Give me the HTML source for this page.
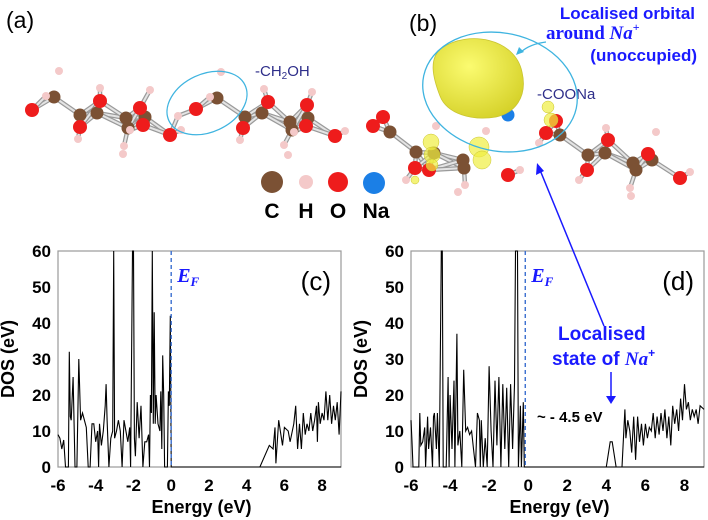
<!DOCTYPE html>
<html><head><meta charset="utf-8"><style>
html,body{margin:0;padding:0;background:#fff;}
svg{display:block;}
text{font-family:"Liberation Sans",sans-serif;}
</style></head><body>
<svg id="fig" width="708" height="520" viewBox="0 0 708 520" xmlns="http://www.w3.org/2000/svg">
<defs>
<radialGradient id="yg" cx="0.4" cy="0.35" r="0.7"><stop offset="0" stop-color="#fbfb70"/><stop offset="1" stop-color="#d6d22a"/></radialGradient>
</defs>
<g id="molA"></g>
<g id="molB"></g>
<text x="6" y="28" font-size="23">(a)</text>
<text x="409" y="31" font-size="23">(b)</text>
<ellipse cx="207" cy="103" rx="42" ry="29" transform="rotate(-25 207 103)" fill="none" stroke="#3fb4e0" stroke-width="1.3"/>
<text x="255" y="76" font-size="15" fill="#2e2e8a">-CH<tspan font-size="10" dy="3">2</tspan><tspan dy="-3">OH</tspan></text>
<text x="537" y="99" font-size="15" fill="#2e2e8a">-COONa</text>
<ellipse cx="500" cy="92" rx="78" ry="59" transform="rotate(12 500 92)" fill="none" stroke="#3fb4e0" stroke-width="1.3"/>
<text x="695" y="19" font-size="17" font-weight="bold" fill="#1a1aff" text-anchor="end">Localised orbital</text>
<text x="546" y="39" font-size="19" font-weight="bold" fill="#1a1aff" style="font-family:'Liberation Serif',serif">around <tspan font-style="italic">Na</tspan><tspan font-size="12" dy="-8">+</tspan></text>
<text x="697" y="61" font-size="17" font-weight="bold" fill="#1a1aff" text-anchor="end">(unoccupied)</text>
<path d="M546 42 Q530 44 521 52" fill="none" stroke="#3fb4e0" stroke-width="1.3"/>
<path d="M516 55 L519 47 L524 52 Z" fill="#3fb4e0"/>
<g>
<circle cx="272" cy="182" r="11" fill="#7b5134"/>
<circle cx="306" cy="182" r="7" fill="#f4c9c9"/>
<circle cx="338" cy="182" r="10" fill="#ee1c1c"/>
<circle cx="374" cy="183" r="11" fill="#1b7fe6"/>
<text x="272" y="218" font-size="21" font-weight="bold" text-anchor="middle">C</text>
<text x="306" y="218" font-size="21" font-weight="bold" text-anchor="middle">H</text>
<text x="338" y="218" font-size="21" font-weight="bold" text-anchor="middle">O</text>
<text x="376" y="218" font-size="21" font-weight="bold" text-anchor="middle">Na</text>
</g>
<g id="plotC"></g>
<g id="plotD"></g>
<line x1="604" y1="326" x2="540" y2="170" stroke="#1a1aff" stroke-width="1.5"/>
<path d="M537 163 L536 175 L544 171 Z" fill="#1a1aff"/>
<text x="558" y="340" font-size="19" font-weight="bold" fill="#1a1aff">Localised</text>
<text x="552" y="365" font-size="19" font-weight="bold" fill="#1a1aff">state of <tspan font-style="italic" style="font-family:'Liberation Serif',serif">Na</tspan><tspan font-size="12" dy="-8">+</tspan></text>
<line x1="611" y1="372" x2="611" y2="398" stroke="#1a1aff" stroke-width="1.5"/>
<path d="M606 396 L616 396 L611 404 Z" fill="#1a1aff"/>
<text x="537" y="422" font-size="15" font-weight="bold">~ - 4.5 eV</text>
</svg>
<script>
const NS="http://www.w3.org/2000/svg";
const energyC=[-6,-5.9,-5.8,-5.7,-5.6,-5.45,-5.4,-5.35,-5.3,-5.2,-5.1,-5,-4.9,-4.8,-4.7,-4.6,-4.5,-4.4,-4.3,-4.2,-4.1,-4,-3.9,-3.85,-3.8,-3.7,-3.6,-3.5,-3.45,-3.4,-3.3,-3.2,-3.1,-3.05,-3,-2.9,-2.8,-2.7,-2.6,-2.5,-2.4,-2.3,-2.2,-2.15,-2.05,-2,-1.95,-1.9,-1.8,-1.7,-1.6,-1.5,-1.4,-1.3,-1.2,-1.15,-1.1,-1.05,-1,-0.95,-0.9,-0.85,-0.8,-0.7,-0.6,-0.55,-0.5,-0.45,-0.4,-0.35,-0.2,-0.15,-0.1,-0.05,0,4.7,5.2,5.4,5.5,5.55,5.7,5.9,6,6.2,6.3,6.5,6.6,6.7,6.8,6.9,7,7.1,7.2,7.3,7.4,7.5,7.6,7.7,7.75,7.8,7.9,8,8.1,8.2,8.3,8.4,8.5,8.6,8.7,8.8,8.9,9];
const dosC=[9,8,5,7.5,0,0,32,14,13,25,0,0,30,13,15,13,11,0,0,12,12,7,10,0,12,6,10,17,23,13,0,8,10,60,8,10,13,10,0,13,10,7,11,0,60,60,8,3,18,8,17,0,7,7,9,0,20,15,60,12,43,12,20,12,10,21,5,31,20,0,0,21,17,42,0,0,6,5,11,1,13,6,11,10,7,12,17,5,12,5,15,9,12,10,15,10,13,17,7,18,12,15,13,21,13,20,12,17,13,18,9,21];
const energyD=[-6,-5.95,-5.9,-5.6,-5.55,-5.5,-5.4,-5.3,-5.25,-5.15,-5.1,-5,-4.9,-4.85,-4.8,-4.7,-4.65,-4.55,-4.45,-4.4,-4.35,-4.2,-4.1,-4.05,-4,-3.9,-3.8,-3.75,-3.65,-3.6,-3.5,-3.4,-3.3,-3.2,-3.1,-3,-2.9,-2.8,-2.7,-2.6,-2.5,-2.45,-2.4,-2.3,-2.2,-2.1,-2,-1.9,-1.8,-1.7,-1.6,-1.5,-1.4,-1.3,-1.2,-1.1,-1,-0.9,-0.8,-0.7,-0.65,-0.55,-0.5,-0.4,-0.35,-0.25,-0.2,4,4.2,4.3,4.5,4.8,4.95,5,5.1,5.2,5.3,5.4,5.5,5.6,5.7,5.8,5.9,6,6.1,6.2,6.3,6.4,6.5,6.6,6.7,6.8,6.9,7,7.1,7.2,7.3,7.4,7.5,7.6,7.7,7.8,7.9,8,8.1,8.2,8.3,8.4,8.5,8.6,8.7,8.8,9];
const dosD=[13,7,0,0,15,6,7,11,0,14,5,11,0,14,15,5,15,0,60,60,0,0,25,0,20,5,24,0,37,6,10,0,27,10,11,9,10,5,0,15,13,0,13,0,8,0,28,10,0,24,6,25,0,23,5,22,0,23,5,23,60,60,0,17,0,18,0,0,7,7,0,0,16,8,13,10,4,14,2,14,7,12,6,12,8,11,10,15,8,14,9,15,10,16,8,14,6,17,12,16,10,19,13,23,16,18,13,16,14,16,12,17,16];
const xTicks=[-6,-4,-2,0,2,4,6,8];
const yTicks=[0,10,20,30,40,50,60];
const efC=0, efD=-0.15;

function el(tag,attrs,parent){const e=document.createElementNS(NS,tag);for(const k in attrs)e.setAttribute(k,attrs[k]);parent.appendChild(e);return e;}

function drawPlot(g,box,energy,dos,ef,label,pref){
  const xs=v=>box.l+(v-(-6))/15*(box.r-box.l);
  const ys=v=>box.b-(v/60)*(box.b-box.t);
  const frame=el('rect',{x:box.l,y:box.t,width:box.r-box.l,height:box.b-box.t,fill:'none',stroke:'#9a9a9a','stroke-width':1.2},g);
  
  
  xTicks.forEach(t=>{
    const tx=el('text',{x:xs(t),y:box.b+24,'font-size':17,'font-weight':'bold','text-anchor':'middle'},g);
    tx.textContent=t;
    
    
  });
  yTicks.forEach(t=>{
    const ty=el('text',{x:box.l-7,y:ys(t)+6,'font-size':17,'font-weight':'bold','text-anchor':'end'},g);
    ty.textContent=t;
    
    
  });
  const xt=el('text',{x:(box.l+box.r)/2+2,y:box.b+46,'font-size':18,'font-weight':'bold','text-anchor':'middle'},g);
  xt.textContent='Energy (eV)';
  
  
  const cy=(box.t+box.b)/2, cx=box.l-44;
  const yt=el('text',{x:cx,y:cy,'font-size':18,'font-weight':'bold','text-anchor':'middle',transform:`rotate(-90 ${cx} ${cy})`},g);
  yt.textContent='DOS (eV)';
  
  
  let d='';
  energy.forEach((e,i)=>{d+=(i?'L':'M')+xs(e).toFixed(1)+' '+ys(dos[i]).toFixed(1);});
  d+='L'+xs(9)+' '+ys(dos[dos.length-1]);
  const line=el('path',{d:d,fill:'none',stroke:'#000','stroke-width':1.1},g);
  
  
  const base=el('line',{x1:xs(ef),y1:box.b,x2:box.r,y2:box.b,stroke:'#000','stroke-width':1},g);
  
  
  const efl=el('line',{x1:xs(ef),y1:box.t,x2:xs(ef),y2:box.b,stroke:'#3a6fd0','stroke-width':1.4,'stroke-dasharray':'4 3'},g);
  
  
  const eft=el('text',{x:xs(ef)+6,y:box.t+31,'font-size':20,'font-weight':'bold','font-style':'italic',fill:'#1a1aff',style:"font-family:'Liberation Serif',serif"},g);
  eft.innerHTML='E<tspan font-size="13" dy="4">F</tspan>';
  
  
  const pl=el('text',{x:box.r-10,y:box.t+39,'font-size':26,'text-anchor':'end'},g);
  pl.textContent=label;
  
  
}
drawPlot(document.getElementById('plotC'),{l:58,r:341,t:251,b:467},energyC,dosC,efC,'(c)','c');
drawPlot(document.getElementById('plotD'),{l:411,r:704,t:251,b:467},energyD,dosD,efD,'(d)','d');

const COL={C:'#7b5134',O:'#ee1c1c',H:'#f4c9c9',N:'#1b7fe6'};
const RAD={C:6.5,O:7,H:4,N:6.5};
function drawMol(g,atoms,pref){
  const bonds=el('g',{},g);
  for(let i=0;i<atoms.length;i++)for(let j=i+1;j<atoms.length;j++){
    const a=atoms[i],b=atoms[j];
    if(a[0]==='H'&&b[0]==='H')continue;
    const dx=a[1]-b[1],dy=a[2]-b[2];const dd=Math.sqrt(dx*dx+dy*dy);
    const lim=(a[0]==='H'||b[0]==='H')?22:36;
    if(dd<lim){
      el('line',{x1:a[1],y1:a[2],x2:b[1],y2:b[2],stroke:'#9a9a9a','stroke-width':4.5},bonds);
      el('line',{x1:a[1],y1:a[2],x2:b[1],y2:b[2],stroke:'#e4e4e4','stroke-width':2},bonds);
    }
  }
  atoms.forEach(a=>{
    const c=el('circle',{cx:a[1],cy:a[2],r:RAD[a[0]],fill:COL[a[0]]},g);
    
    
  });
}
const atomsA=[['C',54,97],['C',80,115],['C',97,113],['C',126,118],['C',128,128],['C',145,117],['C',217,98],['C',245,117],['C',262,113],['C',290,122],['C',292,130],['C',308,118],
['O',32,110],['O',100,101],['O',80,127],['O',140,108],['O',143,125],['O',170,135],['O',196,109],['O',243,128],['O',268,102],['O',307,105],['O',306,126],['O',335,136],
['H',59,71],['H',46,96],['H',100,88],['H',78,139],['H',150,90],['H',124,146],['H',123,154],['H',130,130],['H',181,130],['H',178,116],['H',221,72],['H',210,97],['H',264,89],['H',240,140],['H',312,92],['H',284,145],['H',288,155],['H',294,132],['H',345,131]];
drawMol(document.getElementById('molA'),atomsA,'a');
const gb=document.getElementById('molB');
const atomsB=[['C',390,132],['C',416,152],['C',434,153],['C',463,160],['C',464,168],['C',560,135],['C',588,155],['C',605,153],['C',633,163],['C',636,170],['C',652,160],
['O',373,126],['O',383,117],['O',415,168],['O',429,170],['O',508,175],['O',546,133],['O',556,121],['O',587,170],['O',608,140],['O',648,154],['O',680,178],
['N',508,115],
['H',436,126],['H',486,131],['H',539,143],['H',406,180],['H',465,185],['H',520,170],['H',606,128],['H',656,132],['H',579,180],['H',630,188],['H',631,196],['H',690,172],['H',458,192]];
drawMol(gb,atomsB,'b');
const blobs=[[431,142,8],[432,155,8],[432,165,6],[479,147,10],[482,160,9],[551,120,7],[548,107,6],[415,180,4]];
blobs.forEach(b=>{
  const c=el('circle',{cx:b[0],cy:b[1],r:b[2],fill:'#f0ee40','fill-opacity':0.7,stroke:'#c9c430','stroke-width':0.5},gb);
  
  
});
const big=el('path',{d:'M442 48 C468 30 515 38 522 72 C528 98 514 113 496 117 C472 121 447 114 440 96 C433 78 428 58 442 48 Z',fill:'url(#yg)',stroke:'#c9c430','stroke-width':0.8},gb);


</script>
</body></html>
